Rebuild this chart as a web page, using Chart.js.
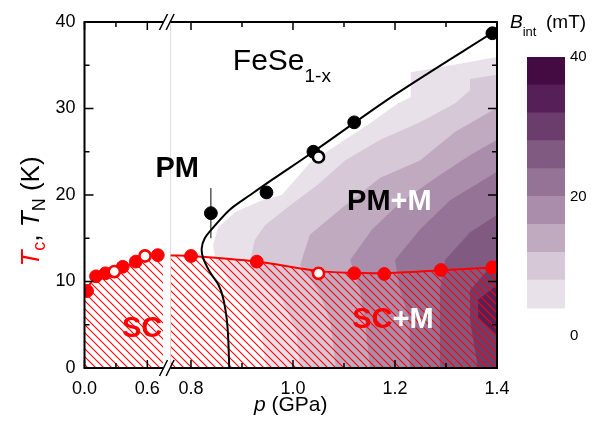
<!DOCTYPE html>
<html>
<head>
<meta charset="utf-8">
<title>FeSe1-x phase diagram</title>
<script src="https://cdn.jsdelivr.net/npm/chart.js@4.4.1/dist/chart.umd.min.js"></script>
<style>
  html, body { margin: 0; padding: 0; background: #fff; }
  #wrap { position: relative; width: 592px; height: 433px; }
  canvas { position: absolute; top: 0; }
  #main { left: 0; }
  #cbar { left: 500px; }
</style>
</head>
<body>
<div id="wrap">
  <canvas id="main" width="592" height="433"></canvas>
  <canvas id="cbar" width="92" height="433"></canvas>
</div>
<script>
// Tc (red), low-pressure panel
const tcLowP = [0.024, 0.11, 0.20, 0.365, 0.49, 0.70];
const tcLowT = [8.9, 10.6, 10.95, 11.7, 12.3, 13.05];
const tcLowOpenP = [0.285, 0.578];
const tcLowOpenT = [11.15, 12.95];
// Tc, high-pressure panel
const tcHighP = [0.80, 0.929, 1.12, 1.179, 1.29, 1.391];
const tcHighT = [12.95, 12.3, 10.95, 10.87, 11.33, 11.64];
const tcHighOpenP = [1.05];
const tcHighOpenT = [10.95];

// TN (black)
const tnP = [0.839, 0.948, 1.040, 1.120, 1.391];
const tnT = [17.9, 20.3, 25.0, 28.4, 38.7];
const tnErr = [2.9, 0, 0, 0, 0];
const tnOpenP = [1.050];
const tnOpenT = [24.4];

// guide lines (SC dome edge and PM / M boundary)
const scLowP = [0.0, 0.11, 0.285, 0.49, 0.578, 0.70, 0.75];
const scLowT = [8.6, 10.6, 11.15, 12.3, 12.95, 13.05, 13.1];
const scHighP = [0.76, 0.80, 0.929, 1.05, 1.12, 1.179, 1.29, 1.40];
const scHighT = [13.0, 12.95, 12.3, 11.2, 11.0, 10.95, 11.3, 11.65];
const pmP = [1.40, 1.20, 1.04, 0.96, 0.916, 0.876, 0.843, 0.827, 0.821, 0.824, 0.837, 0.854, 0.863, 0.870, 0.873, 0.875];
const pmT = [39.1, 31.6, 25.0, 21.8, 20.0, 18.3, 16.2, 15.0, 13.8, 12.7, 11.1, 9.6, 8.1, 5.7, 3.4, 0];

// B_int contours: left edge of each band (B >= 4, 8, ... mT), from T = 0 upwards
const b4P = [0.947, 0.939, 0.912, 0.880, 0.849, 0.843, 0.853, 0.886, 0.939, 0.978, 1.033, 1.092, 1.151, 1.206, 1.231, 1.231, 1.318, 1.40];
const b4T = [0, 3.8, 7.3, 9.6, 12.3, 14.2, 16.2, 18.0, 19.4, 20.0, 23.7, 26.0, 28.3, 30.6, 31.3, 34.2, 35.1, 35.95];
const b8P = [1.014, 1.006, 0.978, 0.939, 0.916, 0.925, 0.945, 0.994, 1.049, 1.102, 1.171, 1.249, 1.318, 1.347, 1.347, 1.40];
const b8T = [0, 4.4, 7.9, 10.2, 12.5, 14.8, 16.5, 18.8, 21.2, 24.0, 26.4, 28.4, 30.6, 32.1, 33.4, 33.9];
const b12P = [1.084, 1.073, 1.049, 1.014, 1.033, 1.102, 1.171, 1.249, 1.318, 1.40];
const b12T = [0, 5.5, 9.0, 11.9, 15.4, 18.8, 22.0, 24.0, 27.3, 30.1];
const b16P = [1.151, 1.141, 1.131, 1.112, 1.155, 1.210, 1.288, 1.347, 1.40];
const b16T = [0, 5.5, 9.0, 12.5, 16.0, 19.1, 22.3, 24.6, 26.4];
const b20P = [1.229, 1.229, 1.210, 1.200, 1.249, 1.308, 1.367, 1.40];
const b20T = [0, 5.5, 9.0, 12.5, 16.0, 19.4, 21.5, 22.7];
const b24P = [1.288, 1.288, 1.288, 1.298, 1.347, 1.40];
const b24T = [0, 5.5, 9.0, 12.5, 15.7, 17.7];
const b28P = [1.363, 1.347, 1.347, 1.396, 1.40];
const b28T = [0, 5.5, 9.0, 12.3, 12.7];
const b32P = [1.40, 1.363, 1.363, 1.40];
const b32T = [3.8, 5.8, 7.9, 9.6];

const bLevels = [4, 8, 12, 16, 20, 24, 28, 32, 36, 40];
const bColors = ['#e9e1ea', '#d6c8d7', '#c0aac0', '#aa8daa', '#957396', '#815a82', '#6b3d6c', '#561f57', '#440a42'];
const cbTicks = [0, 20, 40];

// axis ticks
const xLowTicks = [0.0, 0.3, 0.6];
const xLowLabels = ['0.0', '', '0.6'];
const xHighTicks = [0.8, 0.9, 1.0, 1.1, 1.2, 1.3, 1.4];
const xHighLabels = ['0.8', '', '1.0', '', '1.2', '', '1.4'];
const yTicks = [0, 5, 10, 15, 20, 25, 30, 35, 40];
const yLabels = ['0', '', '10', '', '20', '', '30', '', '40'];

// the low-pressure panel is squeezed: 0 GPa sits at axis value U0, K axis units per GPa
const U0 = 0.5912, K = 0.2053;
const breakLowEnd = 0.75, breakHighStart = 0.76;
function lowU(p) { return U0 + K * p; }

const F = '"Liberation Sans", Arial, Helvetica, sans-serif';
const RED = '#ff0000';

const xTickVals = xLowTicks.map(lowU).concat(xHighTicks);
const xTickText = xLowLabels.concat(xHighLabels);

function pts(P, T, f) {
  return P.map((p, i) => ({x: f ? f(p) : p, y: T[i]}));
}

// red diagonal hatching for the SC region
const hatch = (function () {
  const c = document.createElement('canvas');
  c.width = 8; c.height = 8;
  const g = c.getContext('2d');
  g.strokeStyle = RED;
  g.lineWidth = 1.1;
  g.beginPath();
  g.moveTo(-2, -2); g.lineTo(10, 10);
  g.moveTo(-2, 6); g.lineTo(2, 10);
  g.moveTo(6, -2); g.lineTo(10, 2);
  g.stroke();
  return g.createPattern(c, 'repeat');
})();

function runs(ctx, parts, x, y) {
  let cx = x;
  parts.forEach(r => {
    ctx.font = r.f;
    ctx.fillStyle = r.c;
    ctx.fillText(r.t, cx, y + (r.dy || 0));
    cx += ctx.measureText(r.t).width;
  });
}
function runsWidth(ctx, parts) {
  let w = 0;
  parts.forEach(r => { ctx.font = r.f; w += ctx.measureText(r.t).width; });
  return w;
}

const zones = [[b4P, b4T], [b8P, b8T], [b12P, b12T], [b16P, b16T], [b20P, b20T], [b24P, b24T], [b28P, b28T], [b32P, b32T]];

const datasets = [];
zones.forEach(([P, T], i) => {
  datasets.push({
    data: pts(P, T), indexAxis: 'y', fill: {value: 1.4},
    backgroundColor: bColors[i], borderWidth: 0, pointRadius: 0, tension: 0, order: 40 - i
  });
});
// hatched SC region with its red edge
datasets.push({
  data: pts(scLowP, scLowT, lowU), fill: 'origin', backgroundColor: hatch,
  borderColor: RED, borderWidth: 2, pointRadius: 0, tension: 0.3, order: 10
});
datasets.push({
  data: pts(scHighP, scHighT), fill: 'origin', backgroundColor: hatch,
  borderColor: RED, borderWidth: 2, pointRadius: 0, tension: 0.3, order: 10
});
// PM / M boundary
datasets.push({
  data: pts(pmP, pmT), borderColor: '#000', borderWidth: 2, pointRadius: 0, tension: 0.3, order: 5
});
// error bars on TN
tnP.forEach((p, i) => {
  if (!tnErr[i]) return;
  datasets.push({
    data: [{x: p, y: tnT[i] - tnErr[i]}, {x: p, y: tnT[i] + tnErr[i]}],
    borderColor: '#000', borderWidth: 1, pointRadius: 0, order: 4
  });
});
// markers
function markers(data, color, open) {
  return {
    data: data, showLine: false, clip: 0,
    pointRadius: open ? 5.6 : 6.4, pointBorderWidth: open ? 2.6 : 1,
    pointBackgroundColor: open ? '#fff' : color, pointBorderColor: color,
    backgroundColor: open ? '#fff' : color, borderColor: color, order: open ? 1 : 2
  };
}
datasets.push(markers(pts(tcLowP, tcLowT, lowU).concat(pts(tcHighP, tcHighT)), RED, false));
datasets.push(markers(pts(tcLowOpenP, tcLowOpenT, lowU).concat(pts(tcHighOpenP, tcHighOpenT)), RED, true));
datasets.push(markers(pts(tnP, tnT), '#000', false));
datasets.push(markers(pts(tnOpenP, tnOpenT), '#000', true));

const decor = {
  id: 'decor',
  beforeDatasetsDraw(chart) {
    const {ctx, chartArea: a, scales: {x}} = chart;
    const xb = x.getPixelForValue(breakHighStart);
    ctx.save();
    ctx.strokeStyle = '#e2dbe2';
    ctx.lineWidth = 1;
    ctx.beginPath();
    ctx.moveTo(xb, a.top); ctx.lineTo(xb, a.bottom);
    ctx.stroke();
    ctx.restore();
  },
  afterDatasetsDraw(chart) {
    const {ctx, chartArea: a, scales: {x, y}} = chart;
    ctx.save();
    // inward ticks on all four sides
    ctx.strokeStyle = '#000';
    ctx.lineWidth = 1.5;
    ctx.beginPath();
    xTickVals.forEach((v, i) => {
      const px = x.getPixelForValue(v), len = xTickText[i] ? 8 : 5;
      ctx.moveTo(px, a.bottom); ctx.lineTo(px, a.bottom - len);
      ctx.moveTo(px, a.top); ctx.lineTo(px, a.top + len);
    });
    yTicks.forEach((v, i) => {
      const py = y.getPixelForValue(v), len = yLabels[i] ? 9 : 5;
      ctx.moveTo(a.left, py); ctx.lineTo(a.left + len, py);
      ctx.moveTo(a.right, py); ctx.lineTo(a.right - len, py);
    });
    ctx.stroke();
    ctx.lineWidth = 2;
    ctx.strokeRect(a.left, a.top, a.right - a.left, a.bottom - a.top);

    // axis break marks
    const xm = (x.getPixelForValue(lowU(breakLowEnd)) + x.getPixelForValue(breakHighStart)) / 2;
    [a.top, a.bottom].forEach(yy => {
      ctx.fillStyle = '#fff';
      ctx.fillRect(xm - 3.5, yy - 2, 7, 4);
      ctx.beginPath();
      [-3.3, 3.3].forEach(d => { ctx.moveTo(xm + d - 4, yy + 8); ctx.lineTo(xm + d + 4, yy - 8); });
      ctx.lineWidth = 1.5;
      ctx.stroke();
    });

    // labels inside the plot
    ctx.textAlign = 'left';
    ctx.textBaseline = 'alphabetic';
    const at = (u, t) => [x.getPixelForValue(u), y.getPixelForValue(t)];
    let p;
    p = at(0.882, 34.45);
    runs(ctx, [{t: 'FeSe', f: `30px ${F}`, c: '#000'}, {t: '1-x', f: `19px ${F}`, c: '#000', dy: 12}], p[0], p[1]);
    p = at(lowU(0.678), 22.1);
    runs(ctx, [{t: 'PM', f: `bold 29px ${F}`, c: '#000'}], p[0], p[1]);
    p = at(1.106, 18.3);
    runs(ctx, [{t: 'PM', f: `bold 29px ${F}`, c: '#000'}, {t: '+M', f: `bold 29px ${F}`, c: '#fff'}], p[0], p[1]);
    p = at(lowU(0.358), 3.6);
    runs(ctx, [{t: 'SC', f: `bold 29px ${F}`, c: RED}], p[0], p[1]);
    p = at(1.116, 4.6);
    runs(ctx, [{t: 'SC', f: `bold 29px ${F}`, c: RED}, {t: '+M', f: `bold 29px ${F}`, c: '#fff'}], p[0], p[1]);

    // axis titles
    const xt = [{t: 'p', f: `italic 21px ${F}`, c: '#000'}, {t: ' (GPa)', f: `21px ${F}`, c: '#000'}];
    runs(ctx, xt, (a.left + a.right) / 2 - runsWidth(ctx, xt) / 2, 411);
    const yt = [
      {t: 'T', f: `italic 26px ${F}`, c: RED},
      {t: 'c', f: `18px ${F}`, c: RED, dy: 6},
      {t: ', ', f: `26px ${F}`, c: '#000'},
      {t: 'T', f: `italic 26px ${F}`, c: '#000'},
      {t: 'N', f: `18px ${F}`, c: '#000', dy: 6},
      {t: ' (K)', f: `26px ${F}`, c: '#000'}
    ];
    ctx.save();
    ctx.translate(39, 211.5);
    ctx.rotate(-Math.PI / 2);
    runs(ctx, yt, -runsWidth(ctx, yt) / 2, 0);
    ctx.restore();

    // colour bar title
    runs(ctx, [{t: 'B', f: `italic 19px ${F}`, c: '#000'}, {t: 'int', f: `13px ${F}`, c: '#000', dy: 8}], 510, 28);
    runs(ctx, [{t: '(mT)', f: `19px ${F}`, c: '#000'}], 546, 28);
    ctx.restore();
  }
};

new Chart(document.getElementById('main'), {
  type: 'line',
  data: {datasets: datasets},
  options: {
    responsive: false,
    animation: false,
    layout: {padding: {left: 0, right: 95, top: 22, bottom: 0}},
    plugins: {legend: {display: false}, tooltip: {enabled: false}},
    scales: {
      x: {
        type: 'linear', min: U0, max: 1.4,
        grid: {display: false, drawTicks: false}, border: {display: false},
        afterBuildTicks: s => { s.ticks = xTickVals.map(v => ({value: v})); },
        ticks: {autoSkip: false, maxRotation: 0, color: '#000', padding: 10,
          font: {family: F, size: 18}, callback: (v, i) => xTickText[i]},
        afterFit: s => { s.height = 65; }
      },
      y: {
        type: 'linear', min: 0, max: 40,
        grid: {display: false, drawTicks: false}, border: {display: false},
        afterBuildTicks: s => { s.ticks = yTicks.map(v => ({value: v})); },
        ticks: {autoSkip: false, color: '#000', padding: 9,
          font: {family: F, size: 18}, callback: (v, i) => yLabels[i]},
        afterFit: s => { s.width = 84.5; }
      }
    }
  },
  plugins: [decor]
});

// colour bar
new Chart(document.getElementById('cbar'), {
  type: 'bar',
  data: {
    labels: [''],
    datasets: bColors.map((c, i) => ({
      data: [[bLevels[i], bLevels[i + 1]]], backgroundColor: c, borderWidth: 0,
      grouped: false, barPercentage: 1, categoryPercentage: 1
    }))
  },
  options: {
    responsive: false,
    animation: false,
    layout: {padding: {left: 27, right: 0, top: 57, bottom: 97}},
    plugins: {legend: {display: false}, tooltip: {enabled: false}},
    scales: {
      x: {display: false},
      y: {
        position: 'right', min: 0, max: 40,
        grid: {display: false, drawTicks: false}, border: {display: false},
        afterBuildTicks: s => { s.ticks = cbTicks.map(v => ({value: v})); },
        ticks: {color: '#000', padding: 5, font: {family: F, size: 15}},
        afterFit: s => { s.width = 27; }
      }
    }
  }
});
</script>
</body>
</html>
